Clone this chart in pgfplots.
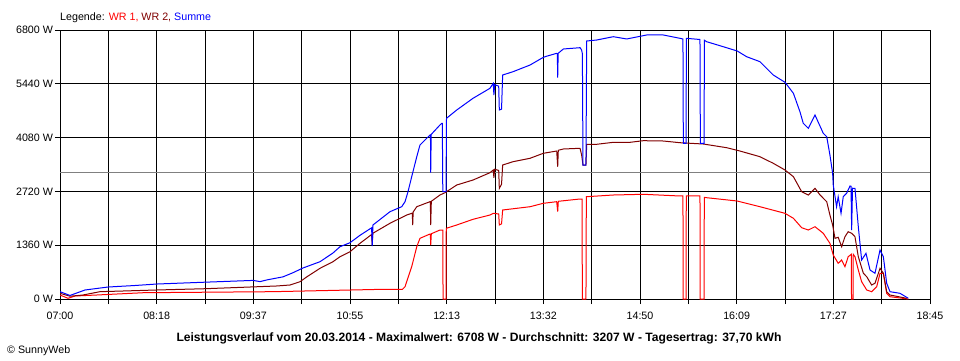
\documentclass[border=0pt]{standalone}
\usepackage{pgfplots}
\pgfplotsset{compat=1.18}
\usepackage{fontspec}
\setmainfont{Liberation Sans}
\definecolor{wrone}{RGB}{255,0,0}
\definecolor{wrtwo}{RGB}{128,0,0}
\definecolor{summe}{RGB}{0,0,255}
\definecolor{avg}{RGB}{128,128,128}
\begin{document}
\begin{tikzpicture}
\path[use as bounding box, fill=white] (0pt,0pt) rectangle (960pt,360pt);
\begin{axis}[
  at={(60pt,61pt)}, anchor=south west,
  scale only axis, width=870pt, height=269pt,
  xmin=0, xmax=705, ymin=0, ymax=6800,
  axis line style={black, line width=1pt},
  grid=major, major grid style={black, line width=1pt},
  tick style={black, line width=1pt},
  tick align=outside, major tick length=5pt,
  xtick pos=bottom, ytick pos=left,
  xtick={0,39.1667,78.3333,117.5,156.6667,195.8333,235,274.1667,313.3333,352.5,391.6667,430.8333,470,509.1667,548.3333,587.5,626.6667,665.8333,705},
  xticklabels={07:00,,08:18,,09:37,,10:55,,12:13,,13:32,,14:50,,16:09,,17:27,,18:45},
  ytick={0,1360,2720,4080,5440,6800},
  yticklabels={0 W,1360 W,2720 W,4080 W,5440 W,6800 W},
  ticklabel style={font=\fontsize{10.7pt}{12pt}\selectfont},
  xticklabel style={yshift=-4pt},
  yticklabel style={xshift=1.5pt},
  every axis plot/.append style={line width=1pt, line join=miter},
]
\addplot[avg, forget plot] coordinates {(0,3207)(705,3207)};
\addplot[wrone] coordinates {
(0,101)(6.5,18)(12.2,76)(29.7,101)(67.5,159)(172.4,185)(261.6,245)(277.5,245)(279.6,311)(285.0,817)(289.1,1322)(291.7,1534)(299.8,1643)(300.1,1643)(300.4,1365)(300.9,1650)(307.9,1744)(310.2,1744)(310.4,0)(312.8,0)(313.0,1787)(321.5,1871)(334.7,2015)(348.4,2123)(351.1,2166)(355.5,2150)(356.0,1871)(357.8,1900)(358.7,2250)(380.9,2333)(391.6,2419)(402.5,2460)(403.3,2207)(403.8,2470)(421.4,2528)(423.0,2528)(423.3,0)(426.2,0)(426.5,2586)(448.4,2629)(472.7,2647)(502.4,2604)(504.8,2604)(505.0,0)(507.3,0)(507.5,2604)(518.6,2604)(518.8,0)(521.9,0)(522.1,2570)(524.0,2561)(548.8,2477)(567.2,2333)(587.5,2166)(594.3,2040)(601.0,1802)(606.4,1744)(611.8,1828)(618.5,1661)(623.9,1408)(626.6,1112)(630.6,902)(633.4,986)(636.1,817)(638.7,1069)(641.2,1130)(641.4,0)(642.6,0)(642.8,1130)(644.2,1069)(646.9,733)(649.6,437)(653.7,228)(657.7,185)(661.8,311)(664.5,650)(667.2,650)(669.9,144)(672.6,58)(687.4,0)
};
\addplot[wrtwo] coordinates {
(0,144)(8.1,70)(18.6,101)(32.4,185)(78.6,228)(117.5,260)(148,296)(175.6,329)(186.4,354)(194.5,437)(200,560)(210.7,776)(221.2,943)(226.9,1069)(235.0,1196)(243.1,1408)(252.5,1630)(253.0,1365)(253.5,1661)(267.4,1914)(280.9,2123)(285.5,2170)(285.8,1871)(286.2,2200)(289.1,2333)(299.8,2460)(300.1,2460)(300.4,1871)(300.9,2470)(307.9,2629)(312.0,2687)(321.5,2882)(334.7,3008)(348.4,3193)(351.1,3261)(351.6,3066)(352.2,3280)(355.5,3250)(356.0,2798)(357.8,2900)(358.7,3387)(367.1,3471)(380.9,3557)(391.6,3683)(402.5,3741)(403.3,3344)(403.8,3760)(407.9,3792)(421.4,3810)(422.7,3640)(423.8,3387)(426.2,3387)(426.8,3911)(434.9,3911)(448.4,3961)(461.9,3961)(472.7,4002)(488.9,3994)(502.4,3951)(521.3,3918)(540.2,3825)(551.0,3741)(567.2,3597)(578.0,3430)(587.5,3261)(594.3,3092)(601.0,2712)(606.4,2629)(611.8,2798)(615.9,2629)(621.3,2460)(623.9,2123)(626.1,1871)(628.0,1534)(630.6,1560)(633.4,1322)(636.1,1575)(638.7,1701)(641.5,1661)(644.2,1575)(646.9,1069)(651.0,650)(653.7,564)(657.7,354)(660.4,397)(664.5,776)(667.2,650)(669.9,185)(672.6,101)(686.1,18)
};
\addplot[summe] coordinates {
(0,185)(8.1,90)(20.3,228)(38.9,303)(60,340)(78.6,379)(117.5,425)(156.4,470)(162.1,440)(168,485)(180.7,560)(188.8,665)(196.9,784)(210.7,943)(221.2,1163)(226.9,1322)(235.0,1423)(243.1,1610)(252.5,1800)(253.0,1340)(253.6,1871)(267.4,2207)(276.9,2333)(279.6,2460)(282.0,2712)(285.0,3092)(289.1,3597)(291.7,3893)(299.8,4146)(300.2,4146)(300.4,3193)(300.8,4160)(307.9,4399)(309.3,4442)(309.8,4442)(310.2,2712)(312.8,2712)(313.2,4568)(321.5,4778)(334.7,5074)(348.4,5326)(351.1,5453)(351.6,5157)(352.2,5420)(355.5,5380)(356.0,4778)(357.8,4800)(358.7,5662)(367.1,5746)(380.9,5915)(390.3,6085)(393.0,6125)(402.5,6211)(403.0,6200)(403.3,5594)(403.7,6211)(407.9,6320)(421.4,6353)(422.7,6294)(423.3,6200)(423.8,3387)(426.2,3387)(426.8,6522)(434.9,6547)(448.4,6631)(459.2,6573)(475.4,6674)(488.9,6674)(502.4,6590)(504.8,6573)(505.1,3936)(507.3,3936)(507.6,6590)(518.6,6560)(518.9,3936)(521.9,3936)(522.2,6540)(524.0,6504)(534.8,6403)(548.8,6269)(556.4,6125)(567.2,5999)(578.0,5662)(587.5,5478)(594.3,5200)(599.6,4735)(602.3,4442)(606.4,4315)(611.8,4651)(618.5,4189)(621.3,4103)(623.9,3640)(626.1,3178)(626.6,2882)(629.3,2333)(630.6,2586)(632.9,2166)(634.7,2586)(637.4,2672)(640.2,2857)(641.0,2850)(641.5,1744)(642.2,2800)(644.2,2798)(646.9,1828)(649.6,986)(653.1,1155)(656.4,733)(660.4,650)(664.5,1239)(667.2,1069)(669.9,397)(672.6,185)(680.7,144)(687.4,18)
};
\end{axis}
\node[anchor=base west, inner sep=0pt, font=\fontsize{10.7pt}{12pt}\selectfont] at (60pt,340pt)
  {Legende: \textcolor{wrone}{WR 1,} \textcolor{wrtwo}{WR 2,} \textcolor{summe}{Summe}};
\node[anchor=base, inner sep=0pt, font=\fontsize{12.1pt}{14pt}\selectfont\bfseries] at (479pt,19pt)
  {Leistungsverlauf vom 20.03.2014 - Maximalwert: 6708 W - Durchschnitt: 3207 W - Tagesertrag: 37,70 kWh};
\node[anchor=base west, inner sep=0pt, font=\fontsize{10.7pt}{12pt}\selectfont] at (7pt,7pt)
  {© SunnyWeb};
\end{tikzpicture}
\end{document}
